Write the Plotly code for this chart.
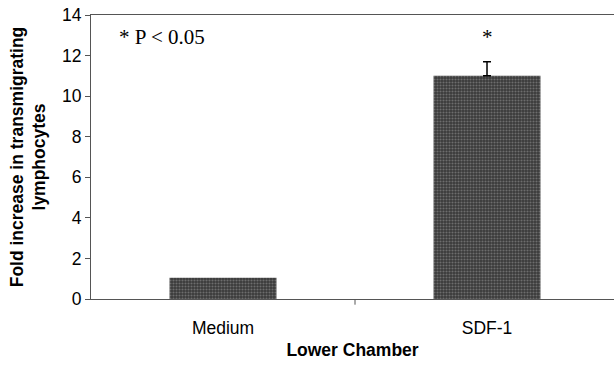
import plotly.graph_objects as go

categories = ["Medium", "SDF-1"]
fold_increase = [1.05, 11.0]
sig_category = "SDF-1"
sig_value = 11.0
sig_error = 0.7
y_ticks = [0, 2, 4, 6, 8, 10, 12, 14]

fig = go.Figure()
fig.add_trace(go.Bar(
    x=categories, y=fold_increase, width=0.405,
    marker=dict(color="#555555", line=dict(width=0),
                pattern=dict(shape=".", fgcolor="#a0a0a0", bgcolor="#3a3a3a", size=3, solidity=0.4)),
    showlegend=False,
))
fig.add_trace(go.Scatter(
    x=[sig_category], y=[sig_value], mode="markers", marker=dict(size=1, opacity=0),
    error_y=dict(type="data", symmetric=False, array=[sig_error], arrayminus=[0],
                 color="black", thickness=1.5, width=4),
    showlegend=False, hoverinfo="skip",
))

fig.add_annotation(x=sig_category, y=12.9, text="*", showarrow=False,
                   font=dict(family="Liberation Serif", size=21, color="black"))

fig.add_annotation(xref="paper", yref="y", x=(117 - 91) / 523, y=12.9, xanchor="left",
                   text="* P < 0.05", showarrow=False,
                   font=dict(family="Liberation Serif", size=21, color="black"))

# category divider tick
fig.add_shape(type="line", xref="x", yref="paper", x0=0.5, x1=0.5, y0=0, y1=-0.02,
              line=dict(color="#555", width=1))

fig.update_layout(
    width=614, height=365,
    margin=dict(l=91, r=0, t=15, b=66, autoexpand=False),
    plot_bgcolor="white", paper_bgcolor="white",
    font=dict(family="Liberation Sans", size=18, color="black"),
    xaxis=dict(range=[-0.5, 1.481], showline=True, linecolor="#555", linewidth=1, mirror=True,
               ticks="", showgrid=False, automargin=False, ticklabelstandoff=13,
               tickfont=dict(size=17.5),
               title=dict(text="<b>Lower Chamber</b>", font=dict(size=17.5), standoff=6)),
    yaxis=dict(range=[0, 14], tickvals=y_ticks, showline=True, linecolor="#555", linewidth=1,
               ticks="outside", ticklen=5, tickcolor="#555", showgrid=False, zeroline=False,
               tickfont=dict(size=17.5), automargin=False,
               title=dict(text="<b>Fold increase in transmigrating<br>lymphocytes</b>",
                          font=dict(size=17.5), standoff=11)),
)

fig.write_html("out.html", config={"displayModeBar": False},
               post_script="document.body.style.margin='0';document.body.style.overflow='hidden';")
